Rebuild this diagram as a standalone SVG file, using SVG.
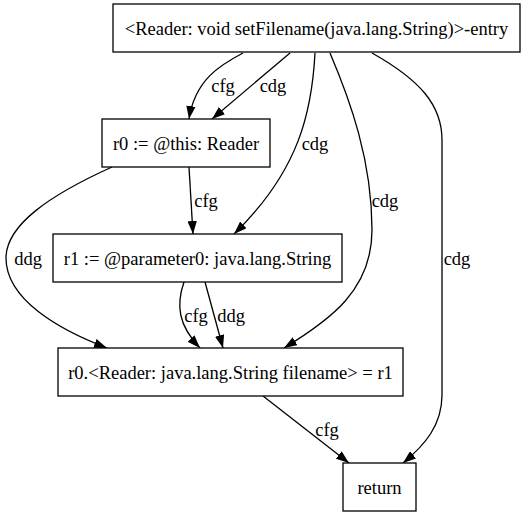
<svg xmlns="http://www.w3.org/2000/svg" width="528" height="517" viewBox="0 0 528 517">
<style>
.n{fill:#fff;stroke:#000;stroke-width:1.3}
text{font-family:"Liberation Serif","Times New Roman",serif;font-size:18.5px;fill:#000}
.t{text-anchor:middle}
.e{fill:none;stroke:#000;stroke-width:1.3;marker-end:url(#a)}
</style>
<defs>
<marker id="a" markerUnits="userSpaceOnUse" markerWidth="13" markerHeight="9.4" refX="13" refY="4.7" orient="auto"><path d="M0,0 L13,4.7 L0,9.4 z" fill="#000"/></marker>
</defs>
<rect width="528" height="517" fill="#fff"/>
<g id="connectors">
<path class="e" d="M243,53 C220,65 195,80 189,119"/>
<path class="e" d="M290,53 L212,119"/>
<path class="e" d="M315,53 C312,110 300,170 234,234"/>
<path class="e" d="M330,53 C350,100 372,160 372,230 C372,290 330,320 284,348"/>
<path class="e" d="M372,53 C420,80 442,105 442,140 L442,395 C442,425 425,445 403,463"/>
<path class="e" d="M189,167 L193,234"/>
<path class="e" d="M112,167 C50,195 6,225 6,258 C6,300 60,330 107,348"/>
<path class="e" d="M184,282 C176,305 178,325 200,348"/>
<path class="e" d="M205,282 L223,348"/>
<path class="e" d="M263,396 L349,463"/>
<text class="t" x="223" y="92">cfg</text>
<text class="t" x="273" y="92">cdg</text>
<text class="t" x="315" y="150">cdg</text>
<text class="t" x="385" y="207">cdg</text>
<text class="t" x="206" y="207">cfg</text>
<text class="t" x="28" y="265">ddg</text>
<text class="t" x="457" y="265">cdg</text>
<text class="t" x="196" y="322">cfg</text>
<text class="t" x="231" y="322">ddg</text>
<text class="t" x="327" y="436">cfg</text>
</g>
<g id="entry"><rect class="n" x="113" y="4" width="407" height="48"/><text class="t" x="316.5" y="35">&lt;Reader: void setFilename(java.lang.String)&gt;-entry</text></g>
<g id="r0"><rect class="n" x="102" y="119" width="168" height="48"/><text class="t" x="186" y="150">r0 := @this: Reader</text></g>
<g id="r1"><rect class="n" x="53" y="234" width="289" height="48"/><text class="t" x="197.5" y="265">r1 := @parameter0: java.lang.String</text></g>
<g id="assign"><rect class="n" x="58" y="348" width="345" height="48"/><text class="t" x="230.5" y="379">r0.&lt;Reader: java.lang.String filename&gt; = r1</text></g>
<g id="ret"><rect class="n" x="343" y="463" width="73" height="48"/><text class="t" x="379.5" y="494">return</text></g>
</svg>
